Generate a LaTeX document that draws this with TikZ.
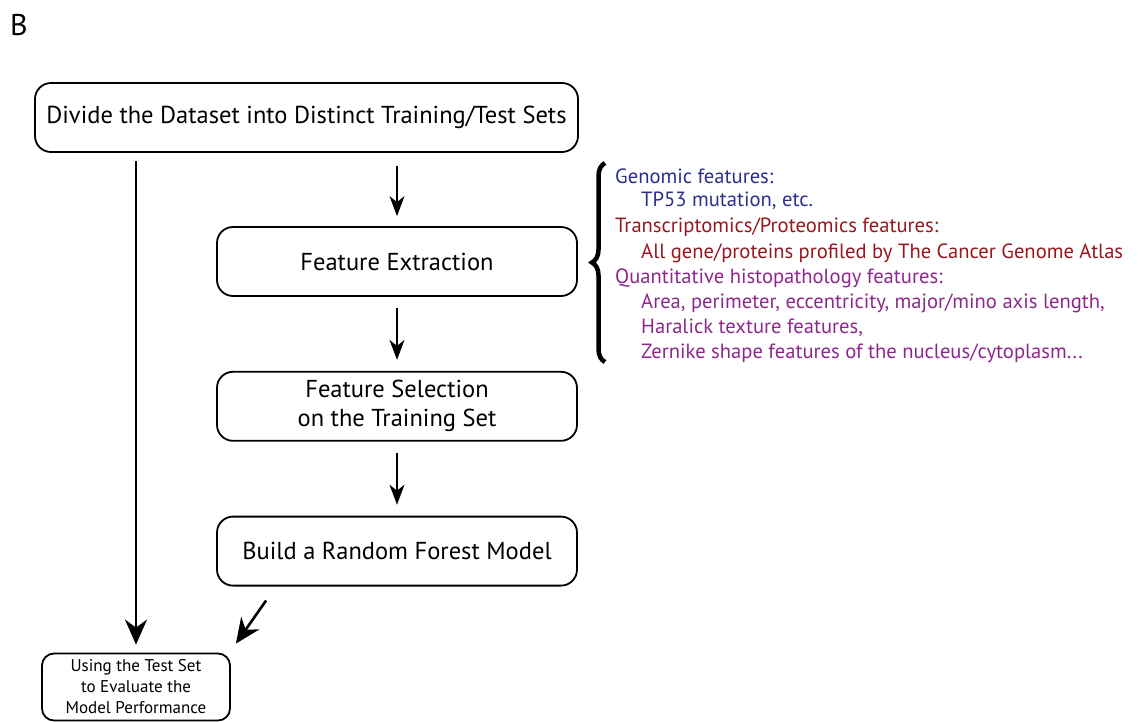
\documentclass[tikz,border=0pt]{standalone}
\usepackage{fontspec}
\setmainfont{PT Sans}
\usetikzlibrary{positioning,arrows.meta,decorations.pathreplacing}
\usepackage{xcolor}
\definecolor{genblue}{RGB}{43,46,140}
\definecolor{transred}{RGB}{150,24,30}
\definecolor{histpurple}{RGB}{140,40,140}

\begin{document}
\begin{tikzpicture}[
        x=1pt, y=-1pt,
        node distance=74pt,
        every node/.style={font=\fontsize{24.5}{29}\selectfont},
        box/.style={draw, line width=1.8pt, rounded corners=16pt, minimum width=360pt, minimum height=69pt, align=center, inner sep=0pt},
        evalbox/.style={box, rounded corners=12pt, minimum width=188pt, minimum height=67pt, font=\fontsize{17}{21}\selectfont},
        feat/.style={anchor=west, inner sep=0pt, font=\fontsize{20.6}{25}\selectfont},
        arrow/.style={-{Stealth[length=20pt, width=15pt, inset=6pt]}, line width=1.5pt},
        bigarrow/.style={-{Stealth[length=25pt, width=22pt, inset=8pt]}, line width=2.6pt},
        brace/.style={decorate, decoration={brace, amplitude=13pt}, line width=4.5pt}
    ]
        \useasboundingbox (0,0) rectangle (1138,721);

        % Panel letter
        \node[font=\fontsize{30}{34}\selectfont] (panel) at (19,25) {B};

        % Main column
        \node[box, minimum width=543pt] (divide) at (306.5,117.5) {Divide the Dataset into Distinct Training/Test Sets};
        \node[box] (extract) at (397,261.5) {Feature Extraction};
        \node[box, below=of extract] (select) {Feature Selection\\on the Training Set};
        \node[box, below=of select] (forest) {Build a Random Forest Model};
        \node[evalbox] (evaluate) at (136,687) {Using the Test Set\\to Evaluate the\\Model Performance};

        % Feature list
        \node[feat, text=genblue] (gen) at (615,176) {Genomic features:};
        \node[feat, text=genblue] (genitem) at (641,201) {TP53 mutation, etc.};
        \node[feat, text=transred] (trans) at (615,227) {Transcriptomics/Proteomics features:};
        \node[feat, text=transred] (transitem) at (641,253) {All gene/proteins profiled by The Cancer Genome Atlas};
        \node[feat, text=histpurple] (hist) at (615,278) {Quantitative histopathology features:};
        \node[feat, text=histpurple] (histarea) at (641,303) {Area, perimeter, eccentricity, major/mino axis length,};
        \node[feat, text=histpurple] (histtex) at (641,328) {Haralick texture features,};
        \node[feat, text=histpurple] (histzer) at (641,353) {Zernike shape features of the nucleus/cytoplasm...};

        % Brace
        \coordinate (bracetop) at (605,163);
        \coordinate (bracebot) at (605,362);
        \draw[brace] (bracebot) -- (bracetop);

        % Arrows
        \draw[arrow] ([yshift=-13pt]divide.south -| extract.north) -- ([yshift=10pt]extract.north);
        \draw[arrow] ([yshift=-11pt]extract.south) -- ([yshift=11pt]select.north);
        \draw[arrow] ([yshift=-11pt]select.south) -- ([yshift=11pt]forest.north);
        \draw[bigarrow] ([yshift=-8pt]divide.south -| evaluate.north) -- ([yshift=8pt]evaluate.north);
        \draw[bigarrow] ([xshift=50pt, yshift=-14pt]forest.south west) -- ([xshift=5pt, yshift=9pt]evaluate.north east);
    \end{tikzpicture}
\end{document}
